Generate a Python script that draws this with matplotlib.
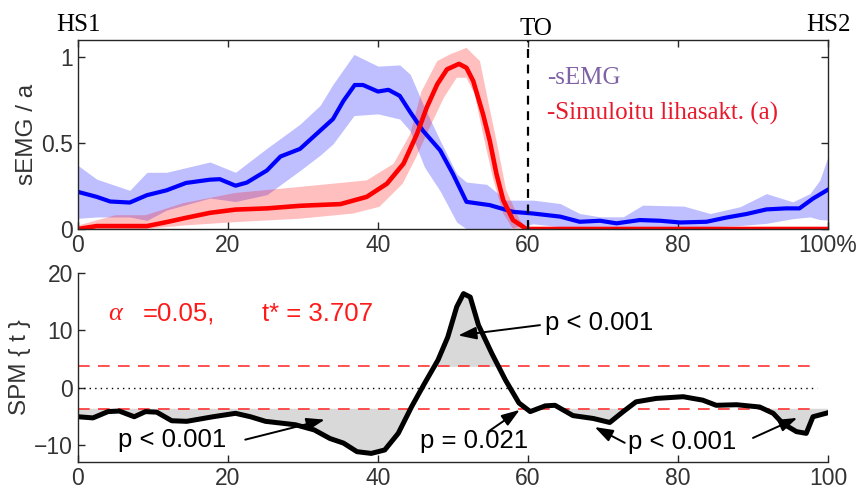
"""sEMG vs simulated muscle activation with SPM{t} comparison."""

import matplotlib.pyplot as plt
import numpy as np

# top panel: measured sEMG (mean and band)
emg_x = [0, 2.5, 4.3, 6.9, 9.2, 11.8, 14.4, 17.6, 18.9, 21, 22.5, 25.2, 27, 29.6, 31.8, 34.0,
         35.4, 36.9, 38.0, 40.0, 41.4, 42.9, 44.3, 46.0, 48.3, 50.0, 51.8, 54.9, 58.0, 60.7,
         64.3, 66.9, 69.6, 71.8, 74.9, 77.6, 80.3, 83.8, 86.5, 89.1, 91.8, 94.4, 96.2, 98, 100]
emg_mean = [0.216, 0.187, 0.16, 0.154, 0.197, 0.225, 0.268, 0.287, 0.29, 0.252, 0.27, 0.341,
            0.422, 0.466, 0.553, 0.64, 0.746, 0.838, 0.838, 0.80, 0.81, 0.775, 0.68, 0.572,
            0.457, 0.32, 0.158, 0.139, 0.1, 0.09, 0.072, 0.042, 0.048, 0.033, 0.052, 0.048,
            0.038, 0.042, 0.067, 0.087, 0.114, 0.12, 0.12, 0.177, 0.229]
emg_band_x = [0, 2.5, 6.9, 9.2, 11.8, 17.6, 21, 25.2, 29.6, 32.3, 34, 36.8, 40.0, 42.9, 44.3,
              46.2, 48.3, 50.5, 51.8, 54.5, 57.1, 60.7, 64.3, 66.9, 69.6, 72.7, 75.3, 80.8,
              84.3, 88.3, 91.8, 95.3, 97.6, 98.9, 100]
emg_upper = [0.37, 0.29, 0.225, 0.33, 0.33, 0.39, 0.33, 0.47, 0.61, 0.72, 0.842, 1.016, 0.948,
             0.955, 0.9, 0.707, 0.514, 0.32, 0.273, 0.26, 0.168, 0.168, 0.148, 0.09, 0.071,
             0.071, 0.139, 0.133, 0.09, 0.13, 0.206, 0.158, 0.206, 0.283, 0.42]
emg_lower = [0.062, 0.07, 0.07, 0.05, 0.11, 0.18, 0.16, 0.2, 0.34, 0.43, 0.495, 0.66, 0.67,
             0.64, 0.57, 0.36, 0.22, 0.04, 0.0, 0.0, 0.0, 0.03, 0.013, 0.013, 0.013, 0.013,
             0.013, 0.013, 0.013, 0.02, 0.033, 0.06, 0.07, 0.055, 0.052]

# top panel: simulated activation (a)
act_x = [0, 2.5, 9.2, 11.8, 14.4, 17.6, 21, 25.2, 29.6, 35, 38.5, 41.2, 43.4, 45.2, 46.5,
         47.9, 49.2, 50.8, 51.8, 52.7, 54.0, 54.9, 55.8, 56.7, 58.0, 59.8, 100]
act_mean = [0.0, 0.017, 0.017, 0.04, 0.065, 0.094, 0.113, 0.12, 0.135, 0.145, 0.187, 0.264,
            0.38, 0.553, 0.707, 0.842, 0.929, 0.961, 0.938, 0.861, 0.669, 0.514, 0.32, 0.168,
            0.052, 0.0, 0.0]
act_up_x = [0, 5, 9, 14, 21, 29.6, 38.5, 42.1, 44.3, 45.8, 47.9, 49.6, 51.8, 53.6, 54.5,
            55.8, 57.1, 58.9, 60, 100]
act_upper = [0.02, 0.08, 0.08, 0.15, 0.21, 0.245, 0.283, 0.38, 0.553, 0.8, 0.977, 1.016,
             1.054, 0.977, 0.784, 0.514, 0.225, 0.052, 0.0, 0.0]
act_low_x = [0, 9, 14, 21, 29.6, 36.7, 40.2, 43.3, 45.1, 46.9, 48.8, 50.5, 51.8, 52.9, 54.0,
             55.4, 56.7, 58, 100]
act_lower = [0, 0, 0.02, 0.04, 0.06, 0.09, 0.129, 0.264, 0.418, 0.591, 0.765, 0.88, 0.88,
             0.784, 0.553, 0.283, 0.09, 0.0, 0.0]

# bottom panel: SPM{t}
spm_x = [0, 2, 4, 5.5, 7.5, 9, 10.5, 12.5, 14.5, 18, 21, 23, 25, 29, 31.5, 33.6, 35.4, 37.2,
         39.1, 40.9, 42.7, 44.5, 46.2, 48.0, 49.3, 50.5, 51.4, 52.3, 53.4, 55.2, 57.0, 58.8,
         60.3, 62.3, 63.6, 66, 68.7, 70.9, 72.7, 74.4, 77.1, 80.7, 83.3, 85.1, 87.8, 90.9,
         92.7, 94, 95.8, 97.1, 98, 100]
spm_t = [-5.1, -5.3, -4.2, -4.1, -5.1, -4.2, -4.3, -5.8, -5.9, -5.1, -4.5, -5.1, -5.9, -6.5,
         -7.4, -8.9, -9.7, -11.2, -11.5, -10.9, -8.0, -3.3, 0.7, 4.8, 8.8, 14.1, 16.4, 15.8,
         10.9, 5.9, 1.3, -2.7, -4.2, -3.2, -3.1, -4.9, -5.4, -6.1, -4.2, -2.5, -1.9, -1.6,
         -2.2, -3.1, -3.0, -3.4, -4.5, -6.3, -7.7, -8.0, -5.1, -4.4]
t_crit = 3.707
toe_off = 60

SANS = ["Liberation Sans", "DejaVu Sans"]
SERIF = ["Liberation Serif", "DejaVu Serif"]
AX_COLOR = "#262626"
plt.rcParams["font.family"] = SANS


def style_axes(ax, box):
    for side in ("left", "bottom", "top", "right"):
        ax.spines[side].set_color(AX_COLOR)
        ax.spines[side].set_linewidth(1.0)
    if not box:
        ax.spines["top"].set_visible(False)
        ax.spines["right"].set_visible(False)
    ax.tick_params(direction="in", length=5, width=1.0, colors=AX_COLOR,
                   labelsize=16.5, labelcolor="#333333", top=box, right=box)


def arrow(ax, tail, head):
    ax.annotate("", xy=head, xytext=tail,
                arrowprops=dict(arrowstyle="-|>,head_length=1.1,head_width=0.38",
                                color="black", lw=1.4, shrinkA=0, shrinkB=0,
                                mutation_scale=10))


fig = plt.figure(figsize=(8.58, 4.93), dpi=100)
ax1 = fig.add_axes([0.0909, 0.5355, 0.8741, 0.3834])
ax2 = fig.add_axes([0.0909, 0.0629, 0.8741, 0.3833])

# --- top panel
ax1.fill_between(emg_band_x, emg_lower, emg_upper, color="#0000ff", alpha=0.25, lw=0)
ax1.fill(np.concatenate([act_up_x, act_low_x[::-1]]),
         np.concatenate([act_upper, act_lower[::-1]]), color="#ff0000", alpha=0.25, lw=0)
ax1.plot(emg_x, emg_mean, color="#0000ff", lw=3.0, solid_joinstyle="round")
ax1.plot(act_x, act_mean, color="#ff0000", lw=3.3, solid_joinstyle="round")
ax1.axvline(toe_off, color="black", lw=1.6, ls=(0, (4, 3)))
ax1.set_xlim(0, 100)
ax1.set_ylim(0, 1.1)
ax1.set_xticks([0, 20, 40, 60, 80, 100])
ax1.set_xticklabels(["0", "20", "40", "60", "80", "100%"])
ax1.set_yticks([0, 0.5, 1])
ax1.set_yticklabels(["0", "0.5", "1"])
style_axes(ax1, box=True)
ax1.set_ylabel("sEMG / a", fontsize=17.5, color="#333333", labelpad=2)

ax1.text(0, 1.02, "HS1", transform=ax1.transAxes, family=SERIF, fontsize=18,
         ha="center", va="bottom")
ax1.text(toe_off + 1, 1.1, "TO", family=SERIF, fontsize=18, ha="center", va="bottom")
ax1.text(1.03, 1.02, "HS2", transform=ax1.transAxes, family=SERIF, fontsize=18,
         ha="right", va="bottom")
ax1.text(62.5, 0.88, "-sEMG", family=SERIF, fontsize=18, color="#7e63a6", va="center")
ax1.text(62.5, 0.67, "-Simuloitu lihasakt. (a)", family=SERIF, fontsize=18,
         color="#e8192c", va="center")

# --- bottom panel
x = np.asarray(spm_x)
t = np.asarray(spm_t)
ax2.fill_between(x, t_crit, t, where=t > t_crit, interpolate=True, color="#d9d9d9", lw=0)
ax2.fill_between(x, -t_crit, t, where=t < -t_crit, interpolate=True, color="#d9d9d9", lw=0)
ax2.axhline(t_crit, color="#ff3333", lw=1.2, ls=(0, (7, 5)), xmax=0.985)
ax2.axhline(-t_crit, color="#ff3333", lw=1.2, ls=(0, (7, 5)), xmax=0.985)
ax2.axhline(0, color="black", lw=1.0, ls=(0, (1, 3)), xmax=0.985)
ax2.plot(x, t, color="black", lw=3.6, solid_joinstyle="round")
ax2.set_xlim(0, 100)
ax2.set_ylim(-13, 20)
ax2.set_xticks([0, 20, 40, 60, 80, 100])
ax2.set_yticks([-10, 0, 10, 20])
style_axes(ax2, box=False)
ax2.set_ylabel("SPM { t }", fontsize=17.5, color="#333333", labelpad=2)

ax2.text(4, 12.9, "\u03b1", family=SERIF, style="italic", fontsize=19, color="#ff1a1a",
         va="center")
ax2.text(8.6, 12.9, "=0.05,", fontsize=18.5, color="#ff1a1a", va="center")
ax2.text(24.6, 12.9, "t* = 3.707", fontsize=18.5, color="#ff1a1a", va="center")

ax2.text(62.3, 11.3, "p < 0.001", fontsize=18.5, va="center", ha="left")
arrow(ax2, (61.6, 10.9), (50.7, 9.1))
ax2.text(5.3, -9.1, "p < 0.001", fontsize=18.5, va="center", ha="left")
arrow(ax2, (22.3, -9.1), (32.9, -5.6))
ax2.text(45.6, -9.3, "p = 0.021", fontsize=18.5, va="center", ha="left")
arrow(ax2, (54.7, -7.7), (58.9, -3.9))
ax2.text(73.4, -9.5, "p < 0.001", fontsize=18.5, va="center", ha="left")
arrow(ax2, (72.9, -9.65), (68.9, -6.9))
arrow(ax2, (90.0, -8.8), (95.9, -5.3))

fig.savefig("out.png", dpi=100)
